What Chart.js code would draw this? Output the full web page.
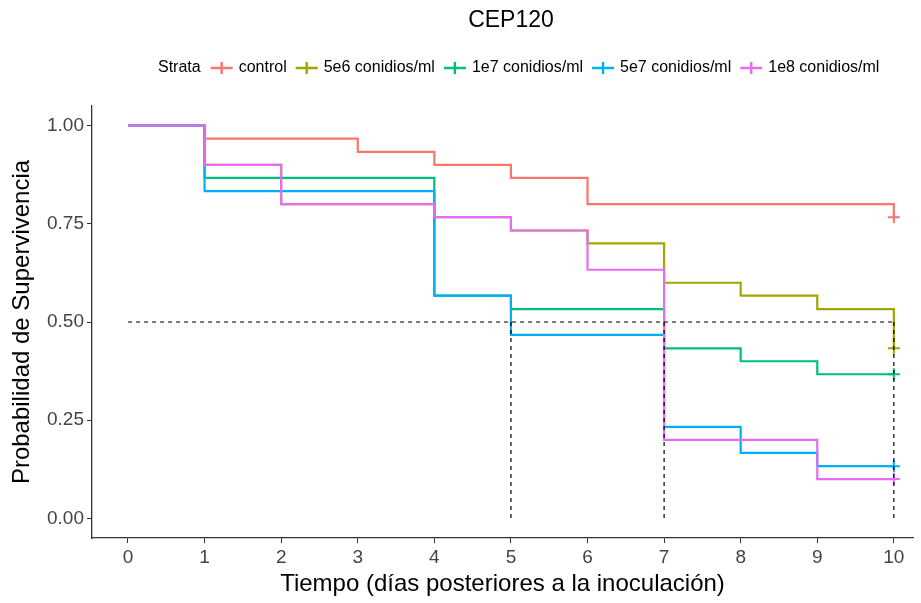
<!DOCTYPE html>
<html>
<head>
<meta charset="utf-8">
<script src="https://cdn.jsdelivr.net/npm/chart.js@4.4.1/dist/chart.umd.min.js"></script>
<style>
  html, body { margin: 0; padding: 0; background: #fff; }
  #wrap { width: 921px; height: 603px; }
</style>
</head>
<body>
<div id="wrap"><canvas id="kmChart"></canvas></div>
<script>
// Kaplan-Meier estimates
const strata = ['control', '5e6 conidios/ml', '1e7 conidios/ml', '5e7 conidios/ml', '1e8 conidios/ml'];
const colors = ['#F8766D', '#A3A500', '#00BF7D', '#00B0F6', '#E76BF3'];

const controlTimes = [0, 1, 3, 4, 5, 6, 10];
const controlSurv  = [1, 0.967, 0.933, 0.9, 0.867, 0.8, 0.767];

const c5e6Times = [0, 1, 2, 4, 5, 6, 7, 8, 9, 10];
const c5e6Surv  = [1, 0.9, 0.8, 0.767, 0.733, 0.7, 0.6, 0.567, 0.533, 0.433];

const c1e7Times = [0, 1, 4, 5, 7, 8, 9, 10];
const c1e7Surv  = [1, 0.867, 0.567, 0.533, 0.433, 0.4, 0.367, 0.367];

const c5e7Times = [0, 1, 4, 5, 7, 8, 9, 10];
const c5e7Surv  = [1, 0.833, 0.567, 0.467, 0.233, 0.167, 0.133, 0.133];

const c1e8Times = [0, 1, 2, 4, 5, 6, 7, 9, 10];
const c1e8Surv  = [1, 0.9, 0.8, 0.767, 0.733, 0.633, 0.2, 0.1, 0.1];

// censored observations (all at end of follow-up)
const censorTime = 10;
const censorSurv = [0.767, 0.433, 0.367, 0.133, 0.1];

// median survival lines
const medianLevel = 0.5;
const medianTimes = [5, 7, 10];

const xTicks = [0, 1, 2, 3, 4, 5, 6, 7, 8, 9, 10];
const yTicks = [0, 0.25, 0.5, 0.75, 1];

const allTimes = [controlTimes, c5e6Times, c1e7Times, c5e7Times, c1e8Times];
const allSurv = [controlSurv, c5e6Surv, c1e7Surv, c5e7Surv, c1e8Surv];

const FONT = "'Liberation Sans', Arial, sans-serif";

function toPoints(xs, ys) {
    return xs.map((x, i) => ({ x: x, y: ys[i] }));
}

const datasets = [];

// curves: last stratum on top (lower order = drawn later)
strata.forEach((name, i) => {
    datasets.push({
        label: name,
        data: toPoints(allTimes[i], allSurv[i]),
        borderColor: colors[i],
        backgroundColor: colors[i],
        borderWidth: 2.2,
        pointRadius: 0,
        stepped: true,
        fill: false,
        order: 20 - i * 2
    });
    datasets.push({
        label: name + ' censor',
        data: [{ x: censorTime, y: censorSurv[i] }],
        showLine: false,
        pointStyle: 'cross',
        pointRadius: 6,
        borderColor: colors[i],
        borderWidth: 2,
        order: 19 - i * 2
    });
});

// dashed median guides
datasets.push({
    label: 'median-h',
    data: [{ x: 0, y: medianLevel }, { x: medianTimes[medianTimes.length - 1], y: medianLevel }],
    borderColor: '#000',
    borderWidth: 1.2,
    borderDash: [4, 4],
    pointRadius: 0,
    order: 0
});
medianTimes.forEach(t => {
    datasets.push({
        label: 'median-v',
        data: [{ x: t, y: medianLevel }, { x: t, y: 0 }],
        borderColor: '#000',
        borderWidth: 1.2,
        borderDash: [4, 4],
        pointRadius: 0,
        order: 0
    });
});

// title + "Strata" legend drawn by hand, ggplot style
const headerPlugin = {
    id: 'header',
    afterDraw(chart) {
        const ctx = chart.ctx;
        ctx.save();
        ctx.fillStyle = '#000';
        ctx.textBaseline = 'middle';
        ctx.textAlign = 'center';
        ctx.font = '23px ' + FONT;
        ctx.fillText('CEP120', 511, 21);

        ctx.font = '16px ' + FONT;
        ctx.textAlign = 'left';
        let x = 158;
        const y = 68;
        ctx.fillText('Strata', x, y);
        x += ctx.measureText('Strata').width + 10;
        strata.forEach((name, i) => {
            ctx.strokeStyle = colors[i];
            ctx.lineWidth = 2.4;
            ctx.beginPath();
            ctx.moveTo(x, y);
            ctx.lineTo(x + 22, y);
            ctx.moveTo(x + 11, y - 6);
            ctx.lineTo(x + 11, y + 6);
            ctx.stroke();
            x += 28;
            ctx.fillText(name, x, y);
            x += ctx.measureText(name).width + 9;
        });
        ctx.restore();
    }
};

const ctx = document.getElementById('kmChart').getContext('2d');
new Chart(ctx, {
    type: 'line',
    data: { datasets: datasets },
    options: {
        responsive: true,
        maintainAspectRatio: false,
        animation: false,
        layout: { padding: { top: 106, right: 4, left: 0, bottom: 0 } },
        plugins: {
            legend: { display: false },
            tooltip: { enabled: false },
            title: { display: false }
        },
        scales: {
            x: {
                type: 'linear',
                min: -0.47,
                max: 10.25,
                afterBuildTicks: s => { s.ticks = xTicks.map(v => ({ value: v })); },
                afterFit: s => { s.height = 65; },
                grid: { display: true, drawOnChartArea: false, drawTicks: true, tickLength: 5, color: '#333' },
                border: { display: true, color: '#333', width: 1.3 },
                ticks: { color: '#444', font: { family: FONT, size: 19 }, padding: 3, maxRotation: 0 },
                title: { display: true, text: 'Tiempo (días posteriores a la inoculación)', color: '#000', font: { family: FONT, size: 24 }, padding: { top: 0 } }
            },
            y: {
                min: -0.05,
                max: 1.05,
                afterBuildTicks: s => { s.ticks = yTicks.map(v => ({ value: v })); },
                afterFit: s => { s.width = 92; },
                grid: { display: true, drawOnChartArea: false, drawTicks: true, tickLength: 5, color: '#333' },
                border: { display: true, color: '#333', width: 1.3 },
                ticks: { color: '#444', font: { family: FONT, size: 19 }, padding: 3, callback: v => v.toFixed(2) },
                title: { display: true, text: 'Probabilidad de Supervivencia', color: '#000', font: { family: FONT, size: 24 }, padding: { top: 8, bottom: 4 } }
            }
        }
    },
    plugins: [headerPlugin]
});
</script>
</body>
</html>
